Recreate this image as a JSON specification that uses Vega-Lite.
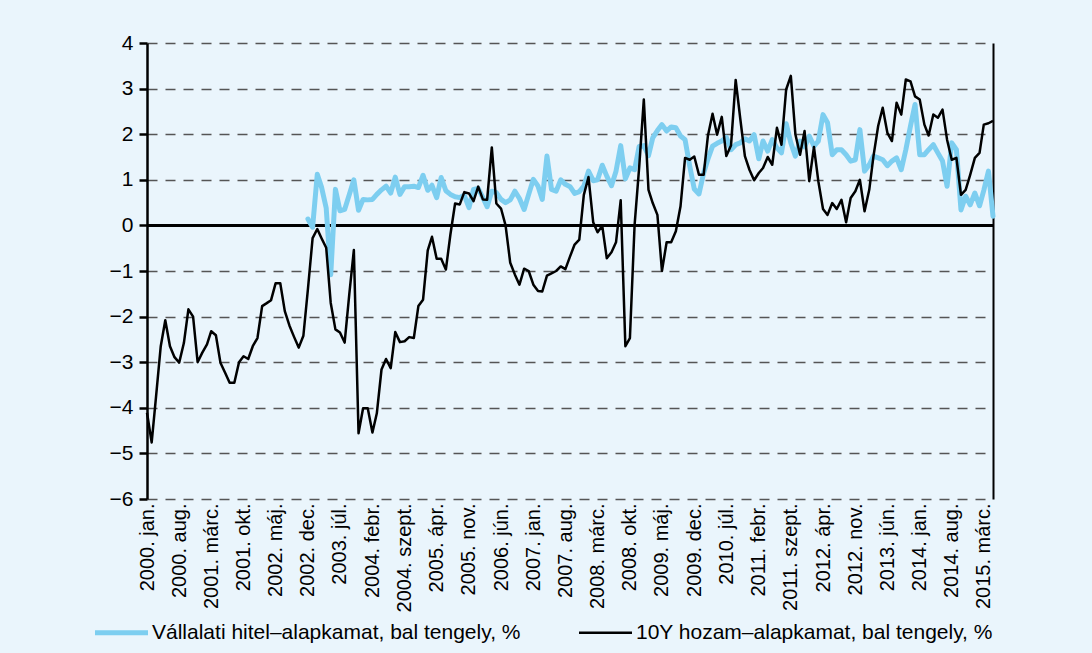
{
"$schema": "https://vega.github.io/schema/vega-lite/v6.json",
"width": 846, "height": 456,
"autosize": {"type": "none"},
"padding": {"left": 147, "top": 43, "right": 99, "bottom": 154},
"background": "#EAF5FC",
"config": {"view": {"stroke": null}, "font": "Liberation Sans"},
"data": {"values": [
{"t":"2000-01-01","hozam":-4.11},{"t":"2000-02-01","hozam":-4.76},{"t":"2000-03-01","hozam":-3.75},{"t":"2000-04-01","hozam":-2.65},{"t":"2000-05-01","hozam":-2.08},{"t":"2000-06-01","hozam":-2.65},{"t":"2000-07-01","hozam":-2.89},{"t":"2000-08-01","hozam":-3.01},{"t":"2000-09-01","hozam":-2.58},{"t":"2000-10-01","hozam":-1.84},{"t":"2000-11-01","hozam":-2.0},{"t":"2000-12-01","hozam":-3.0},
{"t":"2001-01-01","hozam":-2.79},{"t":"2001-02-01","hozam":-2.61},{"t":"2001-03-01","hozam":-2.32},{"t":"2001-04-01","hozam":-2.41},{"t":"2001-05-01","hozam":-3.01},{"t":"2001-06-01","hozam":-3.23},{"t":"2001-07-01","hozam":-3.45},{"t":"2001-08-01","hozam":-3.45},{"t":"2001-09-01","hozam":-3.0},{"t":"2001-10-01","hozam":-2.87},{"t":"2001-11-01","hozam":-2.93},{"t":"2001-12-01","hozam":-2.65},
{"t":"2002-01-01","hozam":-2.47},{"t":"2002-02-01","hozam":-1.77},{"t":"2002-03-01","hozam":-1.71},{"t":"2002-04-01","hozam":-1.64},{"t":"2002-05-01","hozam":-1.27},{"t":"2002-06-01","hozam":-1.27},{"t":"2002-07-01","hozam":-1.88},{"t":"2002-08-01","hozam":-2.2},{"t":"2002-09-01","hozam":-2.45},{"t":"2002-10-01","hozam":-2.68},{"t":"2002-11-01","hozam":-2.42},{"t":"2002-12-01","hozam":-1.4,"hitel":0.14},
{"t":"2003-01-01","hozam":-0.28,"hitel":-0.04},{"t":"2003-02-01","hozam":-0.08,"hitel":1.12},{"t":"2003-03-01","hozam":-0.28,"hitel":0.84},{"t":"2003-04-01","hozam":-0.49,"hitel":0.38},{"t":"2003-05-01","hozam":-1.7,"hitel":-1.08},{"t":"2003-06-01","hozam":-2.28,"hitel":0.79},{"t":"2003-07-01","hozam":-2.35,"hitel":0.32},{"t":"2003-08-01","hozam":-2.57,"hitel":0.35},{"t":"2003-09-01","hozam":-1.5,"hitel":0.68},{"t":"2003-10-01","hozam":-0.54,"hitel":1.0},{"t":"2003-11-01","hozam":-4.56,"hitel":0.33},{"t":"2003-12-01","hozam":-4.01,"hitel":0.57},
{"t":"2004-01-01","hozam":-4.01,"hitel":0.56},{"t":"2004-02-01","hozam":-4.54,"hitel":0.57},{"t":"2004-03-01","hozam":-4.12,"hitel":0.68},{"t":"2004-04-01","hozam":-3.16,"hitel":0.78},{"t":"2004-05-01","hozam":-2.93,"hitel":0.86},{"t":"2004-06-01","hozam":-3.13,"hitel":0.71},{"t":"2004-07-01","hozam":-2.34,"hitel":1.06},{"t":"2004-08-01","hozam":-2.56,"hitel":0.68},{"t":"2004-09-01","hozam":-2.54,"hitel":0.85},{"t":"2004-10-01","hozam":-2.45,"hitel":0.85},{"t":"2004-11-01","hozam":-2.47,"hitel":0.86},{"t":"2004-12-01","hozam":-1.77,"hitel":0.83},
{"t":"2005-01-01","hozam":-1.63,"hitel":1.1},{"t":"2005-02-01","hozam":-0.55,"hitel":0.77},{"t":"2005-03-01","hozam":-0.25,"hitel":0.88},{"t":"2005-04-01","hozam":-0.73,"hitel":0.61},{"t":"2005-05-01","hozam":-0.73,"hitel":1.05},{"t":"2005-06-01","hozam":-0.97,"hitel":0.76},{"t":"2005-07-01","hozam":-0.2,"hitel":0.68},{"t":"2005-08-01","hozam":0.48,"hitel":0.63},{"t":"2005-09-01","hozam":0.46,"hitel":0.61},{"t":"2005-10-01","hozam":0.73,"hitel":0.66},{"t":"2005-11-01","hozam":0.7,"hitel":0.39},{"t":"2005-12-01","hozam":0.53,"hitel":0.79},
{"t":"2006-01-01","hozam":0.85,"hitel":0.81},{"t":"2006-02-01","hozam":0.57,"hitel":0.61},{"t":"2006-03-01","hozam":0.56,"hitel":0.41},{"t":"2006-04-01","hozam":1.71,"hitel":0.75},{"t":"2006-05-01","hozam":0.48,"hitel":0.72},{"t":"2006-06-01","hozam":0.37,"hitel":0.57},{"t":"2006-07-01","hozam":0.0,"hitel":0.5},{"t":"2006-08-01","hozam":-0.82,"hitel":0.56},{"t":"2006-09-01","hozam":-1.08,"hitel":0.75},{"t":"2006-10-01","hozam":-1.3,"hitel":0.59},{"t":"2006-11-01","hozam":-0.95,"hitel":0.35},{"t":"2006-12-01","hozam":-1.0,"hitel":0.68},
{"t":"2007-01-01","hozam":-1.3,"hitel":1.01},{"t":"2007-02-01","hozam":-1.44,"hitel":0.86},{"t":"2007-03-01","hozam":-1.45,"hitel":0.57},{"t":"2007-04-01","hozam":-1.1,"hitel":1.52},{"t":"2007-05-01","hozam":-1.05,"hitel":0.79},{"t":"2007-06-01","hozam":-1.0,"hitel":0.75},{"t":"2007-07-01","hozam":-0.9,"hitel":1.0},{"t":"2007-08-01","hozam":-0.96,"hitel":0.9},{"t":"2007-09-01","hozam":-0.68,"hitel":0.85},{"t":"2007-10-01","hozam":-0.42,"hitel":0.7},{"t":"2007-11-01","hozam":-0.31,"hitel":0.74},{"t":"2007-12-01","hozam":0.67,"hitel":0.86},
{"t":"2008-01-01","hozam":1.06,"hitel":1.19},{"t":"2008-02-01","hozam":0.07,"hitel":0.98},{"t":"2008-03-01","hozam":-0.15,"hitel":1.0},{"t":"2008-04-01","hozam":-0.01,"hitel":1.32},{"t":"2008-05-01","hozam":-0.72,"hitel":1.08},{"t":"2008-06-01","hozam":-0.59,"hitel":0.87},{"t":"2008-07-01","hozam":-0.37,"hitel":1.19},{"t":"2008-08-01","hozam":0.55,"hitel":1.75},{"t":"2008-09-01","hozam":-2.65,"hitel":1.02},{"t":"2008-10-01","hozam":-2.47,"hitel":1.26},{"t":"2008-11-01","hozam":0.01,"hitel":1.22},{"t":"2008-12-01","hozam":1.26,"hitel":1.73},
{"t":"2009-01-01","hozam":2.76,"hitel":1.75},{"t":"2009-02-01","hozam":0.78,"hitel":1.53},{"t":"2009-03-01","hozam":0.49,"hitel":1.92},{"t":"2009-04-01","hozam":0.23,"hitel":2.08},{"t":"2009-05-01","hozam":-1.0,"hitel":2.21},{"t":"2009-06-01","hozam":-0.37,"hitel":2.07},{"t":"2009-07-01","hozam":-0.37,"hitel":2.16},{"t":"2009-08-01","hozam":-0.13,"hitel":2.14},{"t":"2009-09-01","hozam":0.42,"hitel":1.96},{"t":"2009-10-01","hozam":1.48,"hitel":1.88},{"t":"2009-11-01","hozam":1.44,"hitel":1.3},{"t":"2009-12-01","hozam":1.51,"hitel":0.8},
{"t":"2010-01-01","hozam":1.11,"hitel":0.69},{"t":"2010-02-01","hozam":1.11,"hitel":1.15},{"t":"2010-03-01","hozam":1.96,"hitel":1.45},{"t":"2010-04-01","hozam":2.45,"hitel":1.74},{"t":"2010-05-01","hozam":1.99,"hitel":1.8},{"t":"2010-06-01","hozam":2.38,"hitel":1.85},{"t":"2010-07-01","hozam":1.52,"hitel":1.93},{"t":"2010-08-01","hozam":1.75,"hitel":1.66},{"t":"2010-09-01","hozam":3.19,"hitel":1.77},{"t":"2010-10-01","hozam":2.35,"hitel":1.81},{"t":"2010-11-01","hozam":1.52,"hitel":1.9},{"t":"2010-12-01","hozam":1.22,"hitel":1.85},
{"t":"2011-01-01","hozam":0.99,"hitel":1.99},{"t":"2011-02-01","hozam":1.15,"hitel":1.46},{"t":"2011-03-01","hozam":1.26,"hitel":1.85},{"t":"2011-04-01","hozam":1.5,"hitel":1.63},{"t":"2011-05-01","hozam":1.33,"hitel":1.88},{"t":"2011-06-01","hozam":2.14,"hitel":1.7},{"t":"2011-07-01","hozam":1.77,"hitel":1.59},{"t":"2011-08-01","hozam":2.98,"hitel":2.23},{"t":"2011-09-01","hozam":3.28,"hitel":1.81},{"t":"2011-10-01","hozam":2.0,"hitel":1.52},{"t":"2011-11-01","hozam":1.55,"hitel":1.85},{"t":"2011-12-01","hozam":2.07,"hitel":1.72},
{"t":"2012-01-01","hozam":0.97,"hitel":1.96},{"t":"2012-02-01","hozam":1.72,"hitel":1.74},{"t":"2012-03-01","hozam":0.97,"hitel":1.85},{"t":"2012-04-01","hozam":0.36,"hitel":2.43},{"t":"2012-05-01","hozam":0.23,"hitel":2.25},{"t":"2012-06-01","hozam":0.49,"hitel":1.55},{"t":"2012-07-01","hozam":0.36,"hitel":1.66},{"t":"2012-08-01","hozam":0.56,"hitel":1.66},{"t":"2012-09-01","hozam":0.07,"hitel":1.55},{"t":"2012-10-01","hozam":0.6,"hitel":1.41},{"t":"2012-11-01","hozam":0.75,"hitel":1.44},{"t":"2012-12-01","hozam":1.0,"hitel":2.1},
{"t":"2013-01-01","hozam":0.31,"hitel":1.19},{"t":"2013-02-01","hozam":0.78,"hitel":1.33},{"t":"2013-03-01","hozam":1.52,"hitel":1.52},{"t":"2013-04-01","hozam":2.18,"hitel":1.48},{"t":"2013-05-01","hozam":2.58,"hitel":1.44},{"t":"2013-06-01","hozam":2.03,"hitel":1.31},{"t":"2013-07-01","hozam":1.85,"hitel":1.41},{"t":"2013-08-01","hozam":2.69,"hitel":1.48},{"t":"2013-09-01","hozam":2.43,"hitel":1.22},{"t":"2013-10-01","hozam":3.2,"hitel":1.66},{"t":"2013-11-01","hozam":3.16,"hitel":2.18},{"t":"2013-12-01","hozam":2.83,"hitel":2.65},
{"t":"2014-01-01","hozam":2.76,"hitel":1.55},{"t":"2014-02-01","hozam":2.21,"hitel":1.55},{"t":"2014-03-01","hozam":1.97,"hitel":1.66},{"t":"2014-04-01","hozam":2.43,"hitel":1.77},{"t":"2014-05-01","hozam":2.36,"hitel":1.59},{"t":"2014-06-01","hozam":2.54,"hitel":1.41},{"t":"2014-07-01","hozam":1.88,"hitel":0.86},{"t":"2014-08-01","hozam":1.44,"hitel":1.81},{"t":"2014-09-01","hozam":1.48,"hitel":1.66},{"t":"2014-10-01","hozam":0.67,"hitel":0.34},{"t":"2014-11-01","hozam":0.78,"hitel":0.64},{"t":"2014-12-01","hozam":1.11,"hitel":0.45},
{"t":"2015-01-01","hozam":1.48,"hitel":0.71},{"t":"2015-02-01","hozam":1.59,"hitel":0.43},{"t":"2015-03-01","hozam":2.21,"hitel":0.77},{"t":"2015-04-01","hozam":2.24,"hitel":1.19},{"t":"2015-05-01","hozam":2.29,"hitel":0.2}
]},
"layer": [
{"mark": {"type": "rule", "color": "black", "strokeWidth": 2.5},
 "encoding": {"y": {"datum": 0, "type": "quantitative", "scale": {"domain": [-6, 4], "nice": false, "zero": false}, "axis": null}}},
{"mark": {"type": "line", "strokeWidth": 5, "strokeJoin": "round", "strokeCap": "round"},
 "encoding": {
  "x": {"field": "t", "type": "temporal",
        "scale": {"type": "utc", "domain": [{"year": 2000, "month": 1, "date": 1, "utc": true}, {"year": 2015, "month": 5, "date": 1, "utc": true}]},
        "axis": {"values": [
          {"year":2000,"month":1,"date":1,"utc":true},{"year":2000,"month":8,"date":1,"utc":true},{"year":2001,"month":3,"date":1,"utc":true},{"year":2001,"month":10,"date":1,"utc":true},{"year":2002,"month":5,"date":1,"utc":true},{"year":2002,"month":12,"date":1,"utc":true},{"year":2003,"month":7,"date":1,"utc":true},{"year":2004,"month":2,"date":1,"utc":true},{"year":2004,"month":9,"date":1,"utc":true},{"year":2005,"month":4,"date":1,"utc":true},{"year":2005,"month":11,"date":1,"utc":true},{"year":2006,"month":6,"date":1,"utc":true},{"year":2007,"month":1,"date":1,"utc":true},{"year":2007,"month":8,"date":1,"utc":true},{"year":2008,"month":3,"date":1,"utc":true},{"year":2008,"month":10,"date":1,"utc":true},{"year":2009,"month":5,"date":1,"utc":true},{"year":2009,"month":12,"date":1,"utc":true},{"year":2010,"month":7,"date":1,"utc":true},{"year":2011,"month":2,"date":1,"utc":true},{"year":2011,"month":9,"date":1,"utc":true},{"year":2012,"month":4,"date":1,"utc":true},{"year":2012,"month":11,"date":1,"utc":true},{"year":2013,"month":6,"date":1,"utc":true},{"year":2014,"month":1,"date":1,"utc":true},{"year":2014,"month":8,"date":1,"utc":true},{"year":2015,"month":3,"date":1,"utc":true}],
          "labelExpr": "utcyear(datum.value) + '. ' + ['jan.','febr.','márc.','ápr.','máj.','jún.','júl.','aug.','szept.','okt.','nov.','dec.'][utcmonth(datum.value)]",
          "labelAngle": 270, "labelFontSize": 20, "labelFont": "Liberation Sans", "labelColor": "black", "labelPadding": 4,
          "ticks": false, "domain": false, "grid": false, "title": null, "labelOverlap": false, "labelFlush": false, "labelBound": false}},
  "y": {"field": "hitel", "type": "quantitative", "scale": {"domain": [-6, 4], "nice": false, "zero": false},
        "axis": {"orient": "left", "values": [-6,-5,-4,-3,-2,-1,0,1,2,3,4], "grid": true, "gridDash": [10, 8], "gridColor": "#555555", "gridWidth": 1.3,
                 "domain": true, "domainColor": "black", "domainWidth": 2.5, "ticks": true, "tickColor": "black", "tickWidth": 2.5, "tickSize": 8,
                 "labelFontSize": 21, "labelFont": "Liberation Sans", "labelColor": "black", "labelPadding": 6, "title": null}},
  "color": {"datum": "Vállalati hitel–alapkamat, bal tengely, %", "type": "nominal",
            "scale": {"domain": ["Vállalati hitel–alapkamat, bal tengely, %", "10Y hozam–alapkamat, bal tengely, %"], "range": ["#7DCEF0", "#000000"]},
            "legend": {"orient": "none", "legendX": -36, "legendY": 579, "direction": "horizontal", "columns": 2, "columnPadding": 53,
                       "symbolType": "stroke", "symbolSize": 2809, "symbolStrokeWidth": 5, "labelFontSize": 21, "labelFont": "Liberation Sans",
                       "labelColor": "black", "labelLimit": 800, "labelOffset": 20, "padding": 0, "title": null,
                       "encode": {"symbols": {"update": {"strokeWidth": {"signal": "datum.value === '10Y hozam–alapkamat, bal tengely, %' ? 2.5 : 5"}}}}}}
 }},
{"mark": {"type": "line", "strokeWidth": 2.5, "strokeJoin": "round"},
 "encoding": {
  "x": {"field": "t", "type": "temporal",
        "axis": {"values": [
          {"year":2000,"month":1,"date":1,"utc":true},{"year":2000,"month":8,"date":1,"utc":true},{"year":2001,"month":3,"date":1,"utc":true},{"year":2001,"month":10,"date":1,"utc":true},{"year":2002,"month":5,"date":1,"utc":true},{"year":2002,"month":12,"date":1,"utc":true},{"year":2003,"month":7,"date":1,"utc":true},{"year":2004,"month":2,"date":1,"utc":true},{"year":2004,"month":9,"date":1,"utc":true},{"year":2005,"month":4,"date":1,"utc":true},{"year":2005,"month":11,"date":1,"utc":true},{"year":2006,"month":6,"date":1,"utc":true},{"year":2007,"month":1,"date":1,"utc":true},{"year":2007,"month":8,"date":1,"utc":true},{"year":2008,"month":3,"date":1,"utc":true},{"year":2008,"month":10,"date":1,"utc":true},{"year":2009,"month":5,"date":1,"utc":true},{"year":2009,"month":12,"date":1,"utc":true},{"year":2010,"month":7,"date":1,"utc":true},{"year":2011,"month":2,"date":1,"utc":true},{"year":2011,"month":9,"date":1,"utc":true},{"year":2012,"month":4,"date":1,"utc":true},{"year":2012,"month":11,"date":1,"utc":true},{"year":2013,"month":6,"date":1,"utc":true},{"year":2014,"month":1,"date":1,"utc":true},{"year":2014,"month":8,"date":1,"utc":true},{"year":2015,"month":3,"date":1,"utc":true}],
          "labelExpr": "utcyear(datum.value) + '. ' + ['jan.','febr.','márc.','ápr.','máj.','jún.','júl.','aug.','szept.','okt.','nov.','dec.'][utcmonth(datum.value)]",
          "labelAngle": 270, "labelFontSize": 20, "labelFont": "Liberation Sans", "labelColor": "black", "labelPadding": 4,
          "ticks": false, "domain": false, "grid": false, "title": null, "labelOverlap": false, "labelFlush": false, "labelBound": false}},
  "y": {"field": "hozam", "type": "quantitative",
        "axis": {"orient": "right", "labels": false, "ticks": false, "grid": false, "domain": true, "domainColor": "black", "domainWidth": 2, "title": null}},
  "color": {"datum": "10Y hozam–alapkamat, bal tengely, %", "type": "nominal"}
 }}
],
"resolve": {"axis": {"y": "independent"}}
}
